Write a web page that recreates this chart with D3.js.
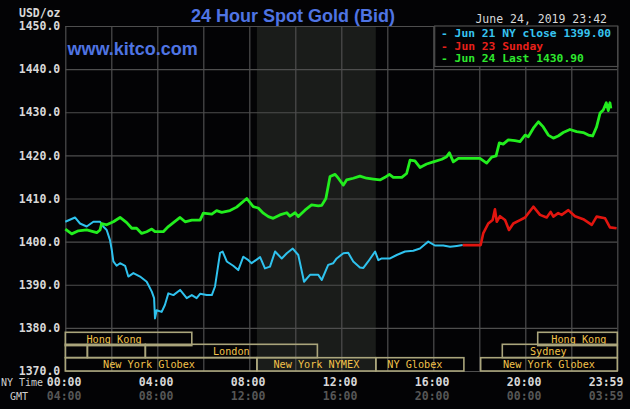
<!DOCTYPE html>
<html><head><meta charset="utf-8">
<script src="https://cdn.jsdelivr.net/npm/d3@7"></script>
<style>body{margin:0;background:#000;}svg{display:block}</style>
</head><body><svg id="c" width="630" height="409"></svg>
<script>
// ---- data ----
const yTicks = [1370,1380,1390,1400,1410,1420,1430,1440,1450];
const gridHours = [0,2,4,6,8,10,12,14,16,18,20,22,24];
const labelHours = [0,4,8,12,16,20,23.983];
const nyTimeLabels = ["00:00","04:00","08:00","12:00","16:00","20:00","23:59"];
const gmtLabels = ["04:00","08:00","12:00","16:00","20:00","00:00","03:59"];

const jun21Hours = [0,0.42,0.64,0.93,1.22,1.51,1.65,1.80,1.94,2.02,2.09,2.23,2.38,2.60,2.74,2.96,3.25,3.54,3.76,3.86,3.90,3.97,4.19,4.33,4.48,4.70,4.99,5.28,5.50,5.71,5.86,6.15,6.37,6.51,6.65,6.73,6.84,7.02,7.30,7.52,7.74,7.96,8.10,8.47,8.68,8.90,9.12,9.41,9.63,9.89,10.13,10.38,10.64,11.0,11.15,11.43,11.65,11.80,12.09,12.30,12.52,12.81,12.96,13.17,13.47,13.61,13.76,14.12,14.41,14.77,15.13,15.42,15.64,15.78,16.07,16.43,16.73,17.02,17.28];
const jun21Prices = [1404.6,1405.6,1404.2,1403.5,1404.6,1404.6,1403.5,1402.7,1400.4,1398.1,1395.4,1394.4,1395.0,1394.4,1391.9,1392.7,1391.9,1390.7,1388.4,1386.9,1382.2,1384.1,1383.7,1385.3,1388.0,1387.6,1388.8,1386.9,1387.6,1386.9,1387.9,1387.6,1387.6,1389.6,1394.6,1397.4,1397.7,1395.4,1394.4,1393.4,1396.5,1395.7,1395.0,1396.4,1393.8,1394.2,1397.7,1396.1,1397.3,1398.4,1396.9,1390.7,1392.3,1392.3,1391.1,1394.6,1395.0,1396.1,1397.3,1397.4,1395.4,1394.0,1393.9,1395.4,1397.7,1395.7,1396.1,1396.1,1396.9,1397.7,1397.9,1398.4,1399.4,1400.0,1399.1,1399.1,1398.8,1399.0,1399.2];

const jun23Hours = [17.28,18.06,18.17,18.39,18.58,18.68,18.76,18.90,19.12,19.29,19.48,19.77,19.99,20.35,20.64,20.93,21.10,21.22,21.43,21.58,21.87,22.16,22.52,22.89,23.10,23.47,23.68,23.97];
const jun23Prices = [1399.2,1399.2,1401.9,1404.2,1405.0,1407.5,1404.6,1405.9,1405.0,1402.7,1404.2,1405.0,1405.6,1408.1,1406.2,1405.6,1406.9,1405.8,1406.6,1406.2,1407.3,1405.9,1405.2,1403.9,1405.8,1405.4,1403.3,1403.1];

const jun24Hours = [0,0.28,0.57,0.93,1.37,1.51,1.58,1.80,2.09,2.38,2.67,2.89,3.10,3.32,3.54,3.76,3.90,4.26,4.48,4.70,4.99,5.21,5.50,5.86,6.0,6.37,6.58,6.80,7.16,7.45,7.89,8.17,8.39,8.61,8.83,9.04,9.33,9.63,9.77,9.99,10.13,10.42,10.71,11.0,
  11.15,11.33,11.51,11.73,11.87,12.09,12.23,12.52,12.81,13.10,13.39,13.68,13.90,14.09,14.26,14.63,14.84,14.99,15.20,15.42,15.71,16.0,16.37,16.58,16.70,16.87,17.09,17.60,18.03,18.32,18.54,18.73,18.87,19.04,19.26,19.55,19.77,19.99,20.13,20.35,20.57,20.78,21.0,21.22,21.43,21.65,21.94,22.23,22.52,22.74,22.93,23.10,23.25,23.39,23.52,23.61,23.68,23.72];
const jun24Prices = [1402.9,1401.8,1402.5,1402.7,1402.1,1402.7,1404.2,1403.9,1404.6,1405.6,1404.4,1403.1,1403.1,1401.9,1402.3,1402.9,1402.3,1402.3,1403.5,1404.4,1405.6,1404.6,1405.0,1405.0,1406.6,1406.4,1407.2,1406.8,1407.2,1408.0,1410.0,1408.1,1407.8,1406.6,1405.8,1405.4,1406.2,1406.7,1405.9,1406.7,1405.8,1407.3,1408.5,1408.3,
  1408.4,1410.0,1415.1,1415.6,1414.7,1413.1,1414.3,1414.7,1415.2,1414.7,1414.5,1414.3,1414.9,1415.6,1414.9,1414.9,1415.8,1418.9,1418.7,1417.2,1418.0,1418.5,1419.1,1419.7,1420.6,1418.5,1419.3,1419.3,1419.3,1418.2,1419.6,1419.9,1422.9,1422.6,1423.6,1423.4,1423.2,1424.7,1424.3,1426.3,1427.8,1426.6,1424.7,1424.0,1424.5,1425.3,1426.0,1425.5,1425.3,1424.7,1424.5,1426.6,1429.8,1430.5,1432.2,1430.4,1432.2,1430.9];

const legendLabels = ["- Jun 21 NY close 1399.00","- Jun 23 Sunday","- Jun 24 Last 1430.90"];

const nymexShade = [8.33, 13.5];
const sessionNames  = ["Hong Kong","Hong Kong","","","London","Sydney","New York Globex","New York NYMEX","NY Globex","New York Globex"];
const sessionRows   = [0,0,1,1,1,1,2,2,2,2];
const sessionStarts = [0,20.54,0,0.96,3.48,19.0,0,8.33,13.5,18.06];
const sessionEnds   = [5.5,24,0.96,3.48,10.96,24,8.33,13.5,17.33,24];
const sessionLabelAt= [2.12,22.33,null,null,null,21.0,3.64,null,15.2,null];

// ---- drawing ----
const svg = d3.select("#c");
const L = 65.3, R = 617.3, T = 26, B = 371;
const x = d3.scaleLinear().domain([0,24]).range([L,R]);
const y = d3.scaleLinear().domain([1370,1450]).range([B,T]);
const mono = "'DejaVu Sans Mono', monospace";
const gridCol = "#4e4e4e";

svg.append("rect").attr("width",630).attr("height",409).attr("fill","#030305");

// NYMEX shading
svg.append("rect").attr("x",x(nymexShade[0])).attr("y",T)
  .attr("width",x(nymexShade[1])-x(nymexShade[0])).attr("height",B-T).attr("fill","#1a1c1a");

// grid via axes
const gx = svg.append("g").attr("transform",`translate(0,${B})`)
  .call(d3.axisBottom(x).tickValues(gridHours).tickSize(-(B-T)).tickFormat(""));
const gy = svg.append("g").attr("transform",`translate(${L},0)`)
  .call(d3.axisLeft(y).tickValues(yTicks).tickSize(-(R-L)).tickFormat(""));
[gx,gy].forEach(g=>{g.select(".domain").remove();g.selectAll("line").attr("stroke",gridCol).attr("stroke-width",1.2);});

// y labels
const ya = svg.append("g").attr("transform",`translate(${L-5},0)`)
  .call(d3.axisLeft(y).tickValues(yTicks).tickSize(0).tickFormat(d3.format(".1f")));
ya.select(".domain").remove();
ya.selectAll("text").attr("fill","#d8d8d8").attr("font-family",mono).attr("font-size",11.5)
  .attr("font-weight","bold").attr("x",0).attr("dy","0.32em");

svg.append("text").attr("x",19).attr("y",17).text("USD/oz")
  .attr("fill","#d8d8d8").attr("font-family",mono).attr("font-size",11.5).attr("font-weight","bold");

// sessions
const rowTop = [332.3,344.3,357.7], rowH = 13.3;
sessionNames.forEach((n,i)=>{
  const x0 = x(sessionStarts[i]), x1 = x(sessionEnds[i]);
  const yy = rowTop[sessionRows[i]];
  svg.append("rect").attr("x",x0).attr("y",yy).attr("width",x1-x0).attr("height",rowH)
    .attr("fill","none").attr("stroke","#aaa57c").attr("stroke-width",1.6);
  if(n){
    const cx = sessionLabelAt[i]==null ? (x0+x1)/2 : x(sessionLabelAt[i]);
    svg.append("text").attr("x",cx).attr("y",yy+rowH/2).attr("dy","0.35em")
      .attr("text-anchor","middle").text(n).attr("fill","#f2c24a")
      .attr("font-family",mono).attr("font-size",10.2);
  }
});

// lines
const line = d3.line().x(d=>x(d[0])).y(d=>y(d[1]));
const series = [
  {h:jun21Hours,p:jun21Prices,c:"#2fc2ee",w:2},
  {h:jun23Hours,p:jun23Prices,c:"#e2150f",w:2.6},
  {h:jun24Hours,p:jun24Prices,c:"#22ee1e",w:2.8}
];
series.forEach(s=>{
  svg.append("path").datum(s.h.map((h,i)=>[h,s.p[i]])).attr("d",line)
    .attr("fill","none").attr("stroke",s.c).attr("stroke-width",s.w).attr("stroke-linejoin","round");
});

// legend
svg.append("rect").attr("x",434.7).attr("y",T).attr("width",R-434.7+0.4).attr("height",40.5)
  .attr("fill","#030305").attr("stroke",gridCol).attr("stroke-width",1.2);
const legCols = ["#37c3f0","#e8201a","#2ee82e"];
legendLabels.forEach((t,i)=>{
  svg.append("text").attr("x",441).attr("y",33.5+i*12.5).attr("dy","0.35em").text(t)
    .attr("fill",legCols[i]).attr("font-family",mono).attr("font-size",11.3).attr("font-weight","bold");
});

// titles
svg.append("text").attr("x",293).attr("y",21.5).attr("text-anchor","middle").text("24 Hour Spot Gold (Bid)")
  .attr("fill","#4f74e3").attr("font-family","'Liberation Sans', Arial, sans-serif").attr("font-size",18).attr("font-weight","bold");
svg.append("text").attr("x",67.5).attr("y",54.5).text("www.kitco.com")
  .attr("fill","#4f74e3").attr("font-family","'Liberation Sans', Arial, sans-serif").attr("font-size",18).attr("font-weight","bold");
svg.append("text").attr("x",607).attr("y",19).attr("dy","0.35em").attr("text-anchor","end").text("June 24, 2019 23:42")
  .attr("fill","#d8d8d8").attr("font-family",mono).attr("font-size",11.5);

// bottom time labels
svg.append("text").attr("x",1).attr("y",382).attr("dy","0.35em").text("NY Time")
  .attr("fill","#cfcfcf").attr("font-family",mono).attr("font-size",10);
svg.append("text").attr("x",10).attr("y",396).attr("dy","0.35em").text("GMT")
  .attr("fill","#cfcfcf").attr("font-family",mono).attr("font-size",10);
labelHours.forEach((h,i)=>{
  const last = i===labelHours.length-1;
  const xx = last ? x(h)+6.5 : x(h)-1.2;
  const anchor = last ? "end" : "middle";
  svg.append("text").attr("x",xx).attr("y",382).attr("dy","0.35em").attr("text-anchor",anchor)
    .text(nyTimeLabels[i]).attr("fill","#d8d8d8").attr("font-family",mono).attr("font-size",11.5).attr("font-weight","bold");
  svg.append("text").attr("x",xx).attr("y",396).attr("dy","0.35em").attr("text-anchor",anchor)
    .text(gmtLabels[i]).attr("fill","#565656").attr("font-family",mono).attr("font-size",11.5).attr("font-weight","bold");
});
</script></body></html>
